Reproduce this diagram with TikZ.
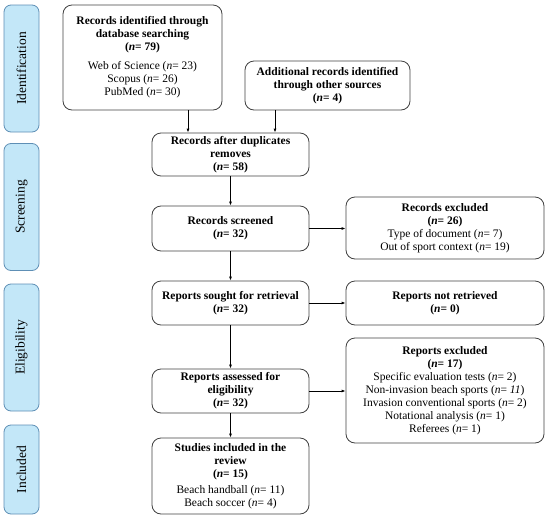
\documentclass[tikz,border=0pt]{standalone}
\usepackage{fontspec}
\setmainfont{Liberation Serif}
\usetikzlibrary{arrows.meta}
\definecolor{sidefill}{HTML}{C3E7F8}
\definecolor{sideline}{HTML}{5E8FB5}
\newcommand{\ncount}[1]{(\textit{n}= #1)}
\begin{document}
\begin{tikzpicture}[x=1pt,y=-1pt,
  box/.style={draw=black!75, line width=0.8pt, rounded corners=9pt, align=center, inner sep=1pt,
    font=\fontsize{11.5}{13}\selectfont, minimum width=157pt},
  xbox/.style={box, minimum width=198pt},
  side/.style={draw=sideline, fill=sidefill, line width=0.8pt, rounded corners=7pt, rotate=90,
    minimum height=35pt, font=\fontsize{13.5}{15}\selectfont, inner sep=0pt},
  arr/.style={-{Latex[length=4pt,width=3pt]}, line width=0.8pt}
]
\useasboundingbox (0,0) rectangle (550,520);
% side labels
\node[side, minimum width=127pt] (sid) at (21.5,68.5) {Identification};
\node[side, minimum width=127pt] (ssc) at (21.5,207) {Screening};
\node[side, minimum width=127pt] (sel) at (21.5,347.5) {Eligibility};
\node[side, minimum width=89pt] (sin) at (21.5,469.5) {Included};
% boxes
\node[box, minimum width=159pt, minimum height=105pt] (b1) at (142.5,57.5)
  {\textbf{Records identified through}\\\textbf{database searching}\\\textbf{\ncount{79}}\\[6pt]
   Web of Science \ncount{23}\\Scopus \ncount{26}\\PubMed \ncount{30}};
\node[box, minimum width=165pt, minimum height=49pt] (b2) at (327.5,85.5)
  {\textbf{Additional records identified}\\\textbf{through other sources}\\\textbf{\ncount{4}}};
\node[box, minimum height=43pt] (b3) at (230.5,154.5)
  {\textbf{Records after duplicates}\\\textbf{removes}\\\textbf{\ncount{58}}};
\node[box, minimum height=45pt] (b4) at (230.5,228.5)
  {\textbf{Records screened}\\\textbf{\ncount{32}}};
\node[xbox, minimum height=62pt] (e1) at (445,228)
  {\textbf{Records excluded}\\\textbf{\ncount{26}}\\Type of document \ncount{7}\\Out of sport context \ncount{19}};
\node[box, minimum height=44pt] (b5) at (230.5,303)
  {\textbf{Reports sought for retrieval}\\\textbf{\ncount{32}}};
\node[xbox, minimum height=44pt] (e2) at (445,303)
  {\textbf{Reports not retrieved}\\\textbf{\ncount{0}}};
\node[box, minimum height=44pt] (b6) at (230.5,391)
  {\textbf{Reports assessed for}\\\textbf{eligibility}\\\textbf{\ncount{32}}};
\node[xbox, minimum height=105pt] (e3) at (445,390.5)
  {\textbf{Reports excluded}\\\textbf{\ncount{17}}\\Specific evaluation tests \ncount{2}\\
   Non-invasion beach sports (\textit{n}= \textit{11})\\Invasion conventional sports \ncount{2}\\
   Notational analysis \ncount{1}\\Referees \ncount{1}};
\node[box, minimum height=76pt] (b7) at (230.5,476)
  {\textbf{Studies included in the}\\\textbf{review}\\\textbf{\ncount{15}}\\[3pt]
   Beach handball \ncount{11}\\Beach soccer \ncount{4}};
% connectors
\coordinate (c1) at (188,0);
\coordinate (c2) at (275,0);
\draw[arr] (b1.south -| c1) -- (b3.north -| c1);
\draw[arr] (b2.south -| c2) -- (b3.north -| c2);
\draw[arr] (b3) -- (b4);
\draw[arr] (b4) -- (e1.west |- b4);
\draw[arr] (b4) -- (b5);
\draw[arr] (b5) -- (e2);
\draw[arr] (b5) -- (b6);
\draw[arr] (b6) -- (e3.west |- b6);
\draw[arr] (b6) -- (b7);
\end{tikzpicture}
\end{document}
